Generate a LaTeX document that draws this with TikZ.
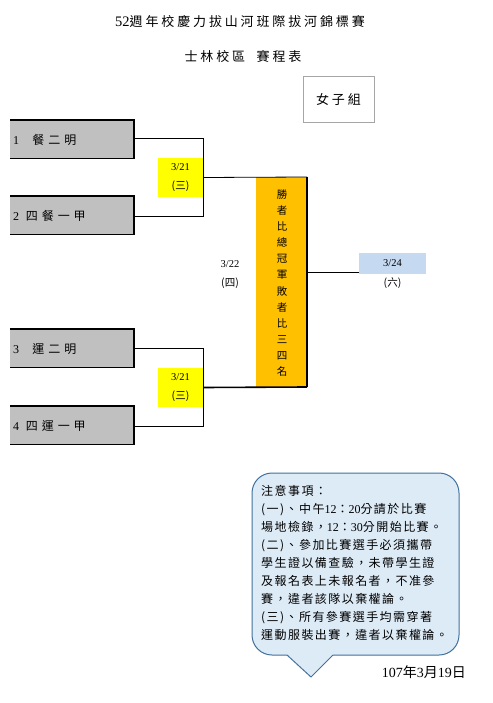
\documentclass[tikz,border=0pt]{standalone}
\usepackage{fontspec}
\setmainfont{Liberation Serif}
\newfontfamily\cjk{Noto Sans CJK TC}
\newfontfamily\cjksp{Noto Sans CJK TC}[LetterSpace=22]
\newfontfamily\cjkteam{Noto Sans CJK TC}[LetterSpace=33]
\newfontfamily\cjknote{Noto Sans CJK TC}[LetterSpace=12]
\newcommand\lat[1]{{\rmfamily #1}}
\definecolor{teamgray}{HTML}{C0C0C0}
\definecolor{dyellow}{HTML}{FFFF00}
\definecolor{dorange}{HTML}{FFC000}
\definecolor{dblue}{HTML}{C5D9F1}
\definecolor{callfill}{HTML}{DDEBF7}
\definecolor{callline}{HTML}{41719C}
\begin{document}
\begin{tikzpicture}[x=1pt,y=-1pt,
  tlabel/.style={anchor=west,font=\cjkteam\fontsize{12}{12}\selectfont,inner sep=0},
  ybox/.style={fill=dyellow,draw=none,minimum width=45pt,minimum height=39pt,inner sep=0,align=center,font=\cjk\fontsize{10.5}{19}\selectfont},
  line/.style={draw=black,line width=0.8pt},
  thickline/.style={draw=black,line width=1.6pt},
  small/.style={font=\cjk\fontsize{10.5}{19}\selectfont,align=center,inner sep=0}]
\useasboundingbox (0,0) rectangle (492,703);
\fill[white] (0,0) rectangle (492,703);
% titles
\node[font=\cjksp\fontsize{13}{13}\selectfont] (title) at (240,22) {\lat{\fontsize{14.5}{14}\selectfont 52}週年校慶力拔山河班際拔河錦標賽};
\node[font=\cjksp\fontsize{13}{13}\selectfont] (sub) at (243,57) {士林校區\ \ 賽程表};
\node[draw=gray!70,line width=0.7pt,minimum width=71pt,minimum height=46pt,font=\cjksp\fontsize{13}{13}\selectfont] (grp) at (338.5,99) {女子組};
% team boxes
\foreach \n/\t/\y in {t1/{\lat{1}\ \ 餐二明}/120, t2/{\lat{2} 四餐一甲}/196, t3/{\lat{3}\ \ 運二明}/329, t4/{\lat{4} 四運一甲}/406}{
  \fill[teamgray] (10,\y) rectangle (134,\y+38);
  \draw[line width=1.6pt] (10,\y) -- (134,\y) -- (134,\y+38);
  \draw[line width=0.9pt] (10,\y+38) -- (135,\y+38);
  \node[tlabel] (\n) at (13,\y+20) {\t};
  \coordinate (\n e) at (134,\y+18);
}
% yellow boxes
\node[ybox] (y1) at (180.5,177.5) {\lat{3/21}\\(三)};
\node[ybox] (y2) at (180.5,387.5) {\lat{3/21}\\(三)};
% orange box
\fill[dorange] (256,177) rectangle (307,387);
\node[font=\cjk\fontsize{10.5}{16.1}\selectfont,align=center,inner sep=0] (final) at (282,283) {勝\\者\\比\\總\\冠\\軍\\敗\\者\\比\\三\\四\\名};
\coordinate (ftop) at (307,177);
\coordinate (fbot) at (307,387);
\coordinate (fmid) at (307,272);
% brackets
\coordinate (b1) at (203,138);
\coordinate (b2) at (203,216);
\coordinate (b3) at (203,348);
\coordinate (b4) at (203,426);
\draw[line] (t1e |- b1) -- (b1) -- (b2) -- (t2e |- b2);
\draw[line] (t3e |- b3) -- (b3) -- (b4) -- (t4e |- b4);
\draw[line] (y1.east) -- (ftop);
\draw[thickline] (y2.east) -- (fbot);
\draw[line width=1.6pt] (ftop) -- (fbot);
% 3/22
\node[small] (d322) at (230,275) {\lat{3/22}\\(四)};
% 3/24
\node[fill=dblue,minimum width=67pt,minimum height=21pt,inner sep=0,font=\cjk\fontsize{10.5}{10}\selectfont] (blue) at (392.5,263.5) {\lat{3/24}};
\node[small] (d324) at (392.5,283) {(六)};
\draw[line] (fmid) -- (blue.west |- fmid);
% callout
\draw[fill=callfill,draw=callline,line width=1pt,rounded corners=20pt]
  (252,473) rectangle (459,655);
\fill[callfill] (286,653.5) -- (311,676) -- (334,653.5) -- cycle;
\draw[callline,line width=1pt,line join=miter] (287,655) -- (311,677) -- (333,655);
\node[anchor=north west,align=left,inner sep=0,font=\cjknote\fontsize{12}{18}\selectfont] (notes) at (261,485) {注意事項：\\
(一)、中午\lat{12}：\lat{20}分請於比賽\\
場地檢錄，\lat{12}：\lat{30}分開始比賽。\\
(二)、參加比賽選手必須攜帶\\
學生證以備查驗，未帶學生證\\
及報名表上未報名者，不准參\\
賽，違者該隊以棄權論。\\
(三)、所有參賽選手均需穿著\\
運動服裝出賽，違者以棄權論。};
\node[font=\cjk\fontsize{14}{14}\selectfont,anchor=east,inner sep=0] (date) at (466,672) {\lat{107}年\lat{3}月\lat{19}日};
\end{tikzpicture}
\end{document}
